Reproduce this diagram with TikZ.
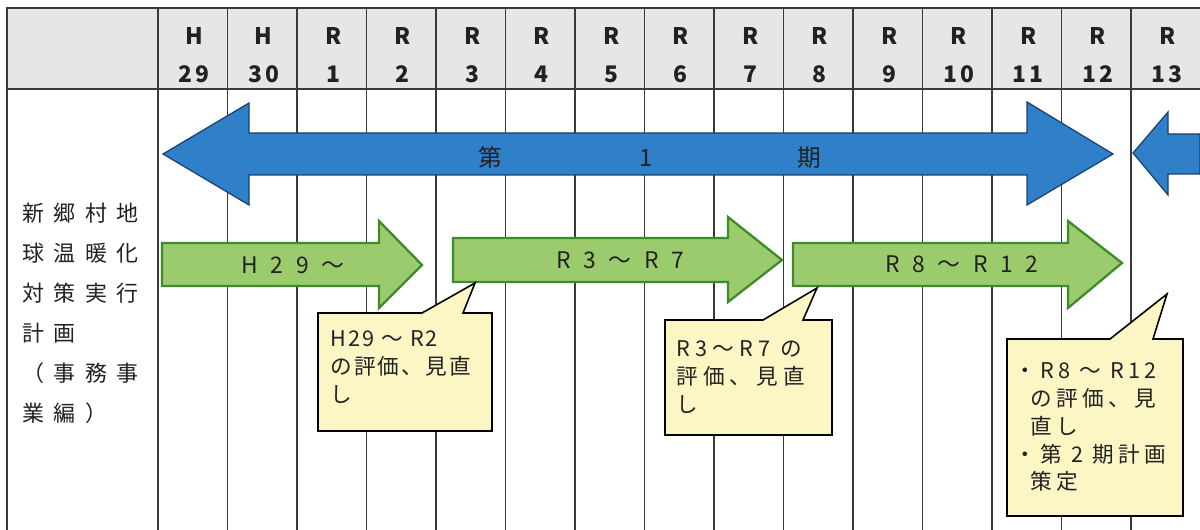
\documentclass[tikz,border=0pt]{standalone}
\usepackage{fontspec}
\setmainfont{Noto Sans CJK JP}
\usepackage{tikz}

\definecolor{hdrgray}{HTML}{E6E6E6}
\definecolor{linegray}{HTML}{3A3A3A}
\definecolor{textdark}{HTML}{222222}
\definecolor{phaseblue}{HTML}{2F7FC9}
\definecolor{bluedark}{HTML}{1D3F6E}
\definecolor{stepgreen}{HTML}{9BCB6C}
\definecolor{greendark}{HTML}{3E8A2C}
\definecolor{noteyellow}{HTML}{FCF5C4}

\tikzset{
  gridline/.style={draw=linegray, line width=0.8pt},
  hdrtext/.style={font=\fontsize{13}{21.5}\selectfont\bfseries\addfontfeature{LetterSpace=15}, text=textdark, align=center},
  bluearrow/.style={fill=phaseblue, draw=bluedark, line width=0.7pt},
  greenarrow/.style={fill=stepgreen, draw=greendark, line width=1.3pt},
  barlabel/.style={font=\fontsize{13}{14}\selectfont\addfontfeature{LetterSpace=33}, text=textdark},
  callout/.style={fill=noteyellow, draw=black, line width=0.9pt},
  notetext/.style={anchor=north west, inner sep=0pt, align=left, text=textdark,
    font=\fontsize{12.3}{15.9}\selectfont\addfontfeature{LetterSpace=#1}},
  notetext/.default=10,
}

\begin{document}
\begin{tikzpicture}[x=0.02cm, y=-0.02cm]
    \useasboundingbox (0,0) rectangle (1200,530);
    \fill[white] (0,0) rectangle (1200,530);

    % header row and grid
    \fill[hdrgray] (7,8) rectangle (1200,89);
    \draw[gridline] (1200,8) -- (7,8) -- (7,530);
    \draw[gridline] (7,89) -- (1200,89);
    \foreach \i in {0,...,14}
        \draw[gridline] ({158+69.5*\i},8) -- ({158+69.5*\i},530);
    \foreach \e/\n [count=\i from 0] in {H/29,H/30,R/1,R/2,R/3,R/4,R/5,R/6,R/7,R/8,R/9,R/10,R/11,R/12,R/13}
        \node[hdrtext] (yr\i) at ({158+69.5*(\i+0.5)+1.5},55) {\e\\\n};

    % row title
    \node[anchor=north west, inner sep=0pt, align=left, text=textdark,
          font=\fontsize{12.5}{22.7}\selectfont\addfontfeature{LetterSpace=43}]
        (plan) at (22,203) {新郷村地\\球温暖化\\対策実行\\計画\\（事務事\\業編）};

    % phase 1 (blue double arrow)
    \draw[bluearrow] (163,154) -- (249,103) -- (249,133) -- (1027,133) -- (1027,102)
        -- (1113,154) -- (1027,205) -- (1027,175) -- (249,175) -- (249,205) -- cycle;
    \node[font=\fontsize{13.5}{15}\selectfont, text=textdark] (phase1) at (650,157)
        {第\hspace{2.75cm}1\hspace{2.9cm}期};
    % phase 2 (next arrow, cut at the edge)
    \draw[bluearrow] (1133,153) -- (1168,112) -- (1168,134) -- (1200,134)
        -- (1200,174) -- (1168,174) -- (1168,195) -- cycle;

    % steps (green arrows)
    \draw[greenarrow] (162,243) -- (379,243) -- (379,221) -- (422,265) -- (379,308)
        -- (379,286) -- (162,286) -- cycle;
    \node[barlabel] (stepA) at (293,265) {H 2 9 ～};
    \draw[greenarrow] (453,238) -- (728,238) -- (728,217) -- (782,260) -- (728,302)
        -- (728,282) -- (453,282) -- cycle;
    \node[barlabel] (stepB) at (620,260) {R 3 ～ R 7};
    \draw[greenarrow] (793,243) -- (1068,243) -- (1068,221) -- (1122,263) -- (1068,308)
        -- (1068,286) -- (793,286) -- cycle;
    \node[barlabel] (stepC) at (962,264) {R 8 ～ R 1 2};

    % review notes
    \draw[callout] (318,313) -- (422,313) -- (475,283) -- (463,313) -- (492,313)
        -- (492,431) -- (318,431) -- cycle;
    \node[notetext] (noteA) at (330,330) {H29 ～ R2\\の評価、見直\\し};
    \draw[callout] (665,320) -- (763,320) -- (817,288) -- (803,320) -- (832,320)
        -- (832,435) -- (665,435) -- cycle;
    \node[notetext=24] (noteB) at (676,340) {R3～R7 の\\評価、見直\\し};
    \draw[callout] (1007,339) -- (1110,339) -- (1167,294) -- (1153,339) -- (1183,339)
        -- (1183,516) -- (1007,516) -- cycle;
    \node[notetext=20] (noteC) at (1014,362)
        {・R8 ～ R12\\\hspace{0.32cm}の評価、見\\\hspace{0.32cm}直し\\・第 2 期計画\\\hspace{0.32cm}策定};
\end{tikzpicture}
\end{document}
